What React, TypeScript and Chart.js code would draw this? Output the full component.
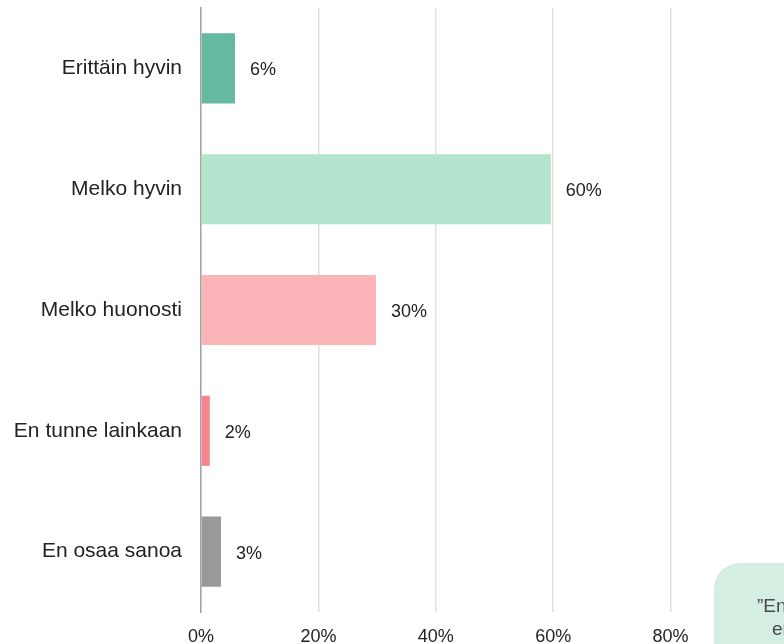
import React, { useEffect, useRef } from "react";
import { Chart, registerables } from "chart.js";

Chart.register(...registerables);

const categories = ["Erittäin hyvin", "Melko hyvin", "Melko huonosti", "En tunne lainkaan", "En osaa sanoa"];
const values = [5.8, 59.6, 29.8, 1.5, 3.4];
const valueLabels = ["6%", "60%", "30%", "2%", "3%"];
const barColors = ["#66b9a1", "#b4e4cd", "#fbb5b9", "#f5858c", "#999999"];
const tickLabels = ["0%", "20%", "40%", "60%", "80%"];
const noteLines = ["”En tunne", "enää”"];

const FONT = "'Liberation Sans', Arial, sans-serif";

const valueLabelPlugin = {
  id: "valueLabels",
  afterDatasetsDraw(chart: any) {
    const ctx = chart.ctx;
    const meta = chart.getDatasetMeta(0);
    ctx.save();
    ctx.font = `18px ${FONT}`;
    ctx.fillStyle = "#222222";
    ctx.textAlign = "left";
    ctx.textBaseline = "middle";
    meta.data.forEach((bar: any, i: number) => {
      ctx.fillText(valueLabels[i], bar.x + 15, bar.y + 2);
    });
    ctx.restore();
  },
};

const notePlugin = {
  id: "noteBox",
  afterDraw(chart: any) {
    const ctx = chart.ctx;
    ctx.save();
    const x = 714, y = 563, w = 300, h = 200, r = 26;
    ctx.fillStyle = "#d4eee1";
    ctx.beginPath();
    ctx.moveTo(x + r, y);
    ctx.lineTo(x + w, y);
    ctx.lineTo(x + w, y + h);
    ctx.lineTo(x, y + h);
    ctx.lineTo(x, y + r);
    ctx.arcTo(x, y, x + r, y, r);
    ctx.closePath();
    ctx.fill();
    ctx.font = `19px ${FONT}`;
    ctx.fillStyle = "#4a4a4a";
    ctx.textAlign = "left";
    ctx.textBaseline = "alphabetic";
    ctx.fillText(noteLines[0], 757, 612);
    ctx.fillText(noteLines[1], 772, 635);
    ctx.restore();
  },
};

export default function App() {
  const ref = useRef<HTMLCanvasElement>(null);
  useEffect(() => {
    if (!ref.current) return;
    const chart = new Chart(ref.current, {
      type: "bar",
      data: {
        labels: categories,
        datasets: [
          {
            data: values,
            backgroundColor: barColors,
            barPercentage: 0.58,
            categoryPercentage: 1,
          },
        ],
      },
      options: {
        indexAxis: "y",
        animation: false,
        responsive: false,
        devicePixelRatio: 1,
        layout: { padding: { top: 8, right: 12, left: 0, bottom: 0 } },
        plugins: { legend: { display: false }, tooltip: { enabled: false } },
        scales: {
          x: {
            min: 0,
            max: 100,
            ticks: {
              stepSize: 20,
              padding: 14,
              color: "#222222",
              font: { family: FONT, size: 18 },
              callback: (_v: any, i: number) => tickLabels[i] ?? "",
            },
            grid: { color: "#e0e0e0", lineWidth: 1.5, drawTicks: false },
            border: { display: false },
            afterFit: (s: any) => {
              s.height = 32;
              s.paddingLeft = 0;
              s.paddingRight = 0;
            },
          },
          y: {
            ticks: {
              padding: 19,
              color: "#222222",
              font: { family: FONT, size: 21 },
            },
            grid: { display: false, drawTicks: false },
            border: { display: true, color: "#a3a3a3", width: 1.5 },
            afterFit: (s: any) => {
              s.width = 201;
              s.paddingTop = 0;
              s.paddingBottom = 0;
            },
          },
        },
      },
      plugins: [valueLabelPlugin, notePlugin],
    });
    return () => chart.destroy();
  }, []);
  return (
    <div
      style={{
        position: "fixed",
        left: 0,
        top: 0,
        width: 784,
        height: 644,
        overflow: "hidden",
        background: "#ffffff",
      }}
    >
      <canvas ref={ref} width={800} height={644} style={{ display: "block" }} />
    </div>
  );
}
